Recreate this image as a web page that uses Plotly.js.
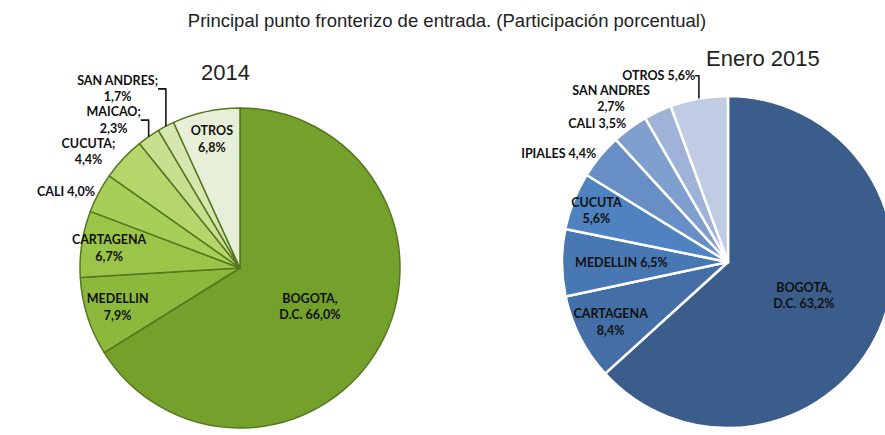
<!DOCTYPE html>
<html>
<head>
<meta charset="utf-8">
<script src="https://cdn.plot.ly/plotly-3.0.1.min.js"></script>
<style>
html, body { margin:0; padding:0; overflow:hidden; background:#fff; width:885px; height:435px; }
#chart { width:905px; height:480px; }
</style>
</head>
<body>
<div id="chart"></div>
<script>
// 2014
var cats2014 = ['BOGOTA, D.C.', 'MEDELLIN', 'CARTAGENA', 'CALI', 'CUCUTA', 'MAICAO', 'SAN ANDRES', 'OTROS'];
var vals2014 = [66.0, 7.9, 6.7, 4.0, 4.4, 2.3, 1.7, 6.8];
var lbl2014  = ['BOGOTA,<br>D.C. ', 'MEDELLIN<br>', 'CARTAGENA<br>', 'CALI ', 'CUCUTA;<br>', 'MAICAO;<br>', 'SAN ANDRES;<br>', 'OTROS<br>'];
var pos2014  = ['inside', 'inside', 'inside', 'outside', 'outside', 'outside', 'outside', 'inside'];
var col2014  = ['#74a02c', '#8cb93b', '#9bc548', '#a7ce56', '#b4d66b', '#c7df8e', '#d5e7ae', '#e7efd8'];

// Enero 2015
var cats2015 = ['BOGOTA, D.C.', 'CARTAGENA', 'MEDELLIN', 'CUCUTA', 'IPIALES', 'CALI', 'SAN ANDRES', 'OTROS'];
var vals2015 = [63.2, 8.4, 6.5, 5.6, 4.4, 3.5, 2.7, 5.6];
var lbl2015  = ['BOGOTA,<br>D.C. ', 'CARTAGENA<br>', 'MEDELLIN ', 'CUCUTA<br>', 'IPIALES ', 'CALI ', 'SAN ANDRES<br>', 'OTROS '];
var pos2015  = ['inside', 'inside', 'inside', 'inside', 'outside', 'outside', 'outside', 'outside'];
var col2015  = ['#3b5d8c', '#436ea6', '#4878b4', '#4f82c0', '#678fc6', '#7f9fcf', '#9fb3d9', '#c0cce3'];

function fmt(v) { return v.toFixed(1).replace('.', ','); }
function texts(lbls, vals) { return vals.map(function (v, i) { return lbls[i] + fmt(v) + '%'; }); }

var W = 905, H = 480;
function dom(cx, cy, r) {
  return { x: [(cx - r) / W, (cx + r) / W], y: [(H - (cy + r)) / H, (H - (cy - r)) / H] };
}

var fontTxt = { family: 'Lato, "Open Sans", sans-serif', size: 12.5, color: '#111111', weight: 'bold' };

var traces = [
  {
    type: 'pie', labels: cats2014, values: vals2014, sort: false, direction: 'clockwise', rotation: 0,
    text: texts(lbl2014, vals2014), textinfo: 'text', textposition: pos2014,
    insidetextorientation: 'horizontal',
    marker: { colors: col2014, line: { color: '#56761f', width: 1.5 } },
    textfont: fontTxt, insidetextfont: fontTxt, outsidetextfont: fontTxt,
    domain: dom(240, 268, 160), hoverinfo: 'label+percent', showlegend: false
  },
  {
    type: 'pie', labels: cats2015, values: vals2015, sort: false, direction: 'clockwise', rotation: 0,
    text: texts(lbl2015, vals2015), textinfo: 'text', textposition: pos2015,
    insidetextorientation: 'horizontal',
    marker: { colors: col2015, line: { color: '#ffffff', width: 2.5 } },
    textfont: fontTxt, insidetextfont: fontTxt, outsidetextfont: fontTxt,
    domain: dom(728, 262, 166), hoverinfo: 'label+percent', showlegend: false
  }
];

var layout = {
  width: W, height: H,
  margin: { l: 0, r: 0, t: 0, b: 0 },
  paper_bgcolor: '#ffffff',
  showlegend: false,
  uniformtext: { minsize: 12.5, mode: 'show' },
  title: { text: 'Principal punto fronterizo de entrada. (Participación porcentual)',
           font: { family: '"Liberation Sans", Arial, sans-serif', size: 18.5, color: '#222' },
           x: 447 / W, xanchor: 'center', y: 1 - 21 / H, yanchor: 'middle' },
  annotations: [
    { text: '2014', xref: 'paper', yref: 'paper', x: 225 / W, y: 1 - 72 / H, xanchor: 'center', yanchor: 'middle',
      showarrow: false, font: { family: '"Liberation Sans", Arial, sans-serif', size: 22, color: '#222' } },
    { text: 'Enero 2015', xref: 'paper', yref: 'paper', x: 763 / W, y: 1 - 58 / H, xanchor: 'center', yanchor: 'middle',
      showarrow: false, font: { family: '"Liberation Sans", Arial, sans-serif', size: 22, color: '#222' } }
  ]
};

Plotly.newPlot('chart', traces, layout, { displayModeBar: false, staticPlot: true });
</script>
</body>
</html>
